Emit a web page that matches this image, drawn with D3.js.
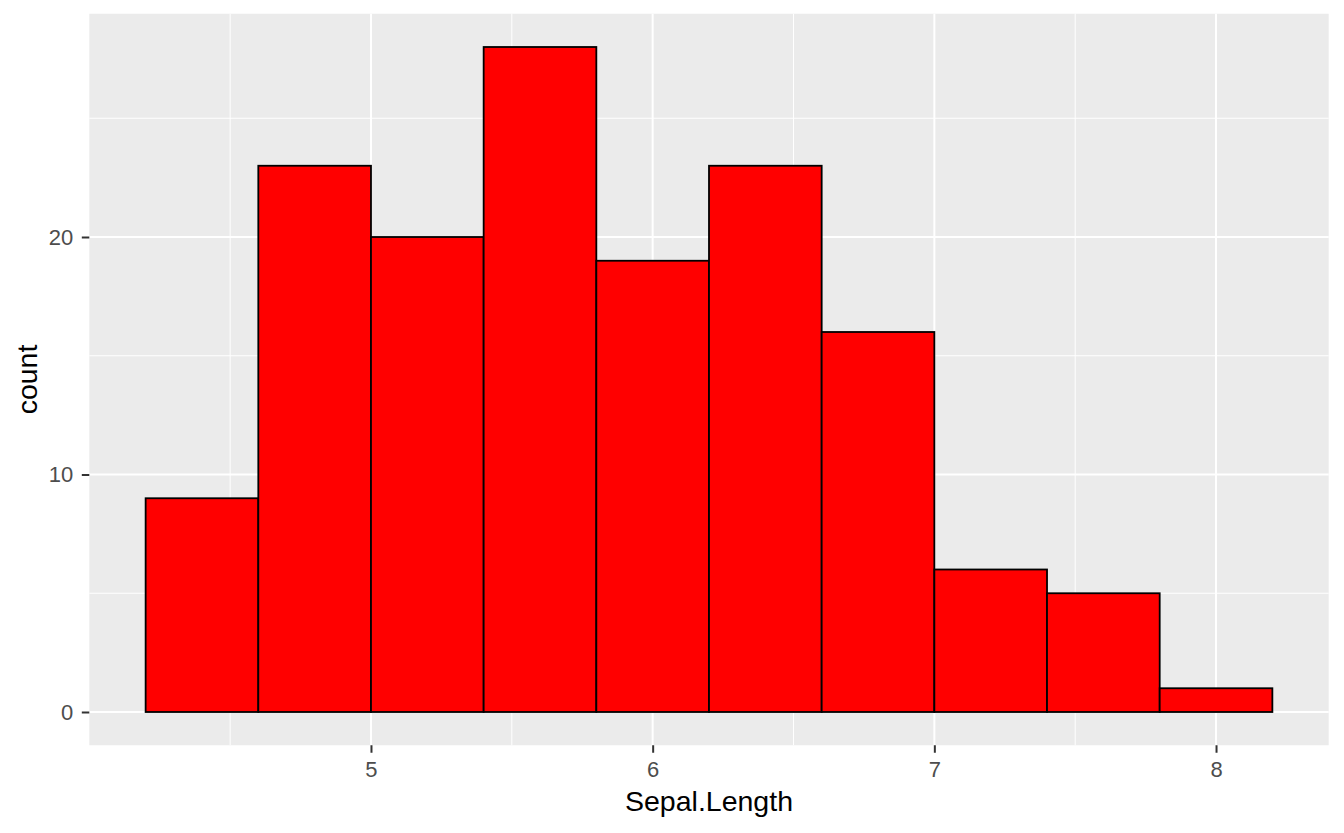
<!DOCTYPE html>
<html><head><meta charset="utf-8">
<script src="https://cdn.jsdelivr.net/npm/d3@7"></script>
<style>body{margin:0;background:#fff}svg{display:block}text{font-family:"Liberation Sans",Arial,sans-serif}</style>
</head><body><svg id="c" width="1344" height="833"></svg>
<script>
const binStarts = [4.2,4.6,5.0,5.4,5.8,6.2,6.6,7.0,7.4,7.8];
const binWidth = 0.4;
const counts = [9,23,20,28,19,23,16,6,5,1];
const xTicks = [5,6,7,8];
const xMinor = [4.5,5.5,6.5,7.5];
const yTicks = [0,10,20];
const yMinor = [5,15,25];

const svg = d3.select("#c");
const L=89.3, R=1328.7, T=13.75, B=745.25;
const x = d3.scaleLinear().domain([4.0,8.4]).range([L,R]);
const y = d3.scaleLinear().domain([-1.4,29.4]).range([B,T]);

svg.append("rect").attr("x",L).attr("y",T).attr("width",R-L).attr("height",B-T).attr("fill","#ebebeb");
const g = svg.append("g");
g.selectAll(".xm").data(xMinor).enter().append("line").attr("x1",d=>x(d)).attr("x2",d=>x(d)).attr("y1",T).attr("y2",B).attr("stroke","#fff").attr("stroke-width",1);
g.selectAll(".ym").data(yMinor).enter().append("line").attr("y1",d=>y(d)).attr("y2",d=>y(d)).attr("x1",L).attr("x2",R).attr("stroke","#fff").attr("stroke-width",1);
g.selectAll(".xM").data(xTicks).enter().append("line").attr("x1",d=>x(d)).attr("x2",d=>x(d)).attr("y1",T).attr("y2",B).attr("stroke","#fff").attr("stroke-width",2);
g.selectAll(".yM").data(yTicks).enter().append("line").attr("y1",d=>y(d)).attr("y2",d=>y(d)).attr("x1",L).attr("x2",R).attr("stroke","#fff").attr("stroke-width",2);

svg.selectAll(".bar").data(counts).enter().append("rect")
  .attr("x",(d,i)=>x(binStarts[i])).attr("width",(d,i)=>x(binStarts[i]+binWidth)-x(binStarts[i]))
  .attr("y",d=>y(d)).attr("height",d=>y(0)-y(d))
  .attr("fill","#ff0000").attr("stroke","#000").attr("stroke-width",1.8);

const xAxis = d3.axisBottom(x).tickValues(xTicks).tickSize(7.5).tickPadding(9).tickFormat(d3.format("d"));
const xa = svg.append("g").attr("transform",`translate(0,${B})`).call(xAxis);
const yAxis = d3.axisLeft(y).tickValues(yTicks).tickSize(7.5).tickPadding(8.5).tickFormat(d3.format("d"));
const ya = svg.append("g").attr("transform",`translate(${L},0)`).call(yAxis);
[xa,ya].forEach(a=>{
  a.attr("font-size",null).attr("font-family",null);
  a.select(".domain").remove();
  a.selectAll(".tick line").attr("stroke","#333").attr("stroke-width",2);
  a.selectAll(".tick text").attr("fill","#4d4d4d").style("font-size","22px");
});

svg.append("text").attr("x",(L+R)/2).attr("y",811).attr("text-anchor","middle").style("font-size","28.5px").attr("fill","#000").text("Sepal.Length");
svg.append("text").attr("transform",`translate(37,${(T+B)/2}) rotate(-90)`).attr("text-anchor","middle").style("font-size","28.5px").attr("fill","#000").text("count");
</script></body></html>
